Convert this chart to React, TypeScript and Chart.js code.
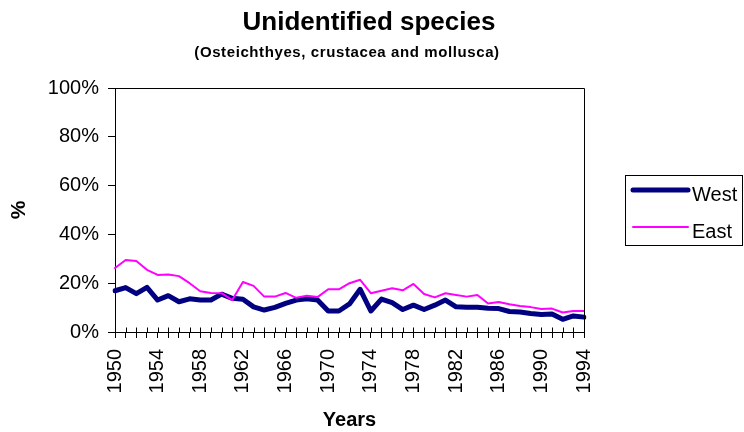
import { useEffect, useRef } from "react";
import { Chart, registerables } from "chart.js";

Chart.register(...registerables);

const FONT = '"Liberation Sans", Arial, Helvetica, sans-serif';

const chartTitle = "Unidentified species";
const chartSubtitle = "(Osteichthyes, crustacea and mollusca)";
const xAxisTitle = "Years";
const yAxisTitle = "%";

const years = [
  "1950", "1951", "1952", "1953", "1954", "1955", "1956", "1957", "1958", "1959",
  "1960", "1961", "1962", "1963", "1964", "1965", "1966", "1967", "1968", "1969",
  "1970", "1971", "1972", "1973", "1974", "1975", "1976", "1977", "1978", "1979",
  "1980", "1981", "1982", "1983", "1984", "1985", "1986", "1987", "1988", "1989",
  "1990", "1991", "1992", "1993", "1994",
];

// Share of unidentified species in the catch, per cent
const westShare = [
  16.9, 18.2, 15.7, 18.3, 13.1, 14.9, 12.4, 13.6, 13.1, 13.1,
  15.5, 13.8, 13.4, 10.3, 9.0, 10.1, 11.7, 13.1, 13.6, 13.1,
  8.6, 8.6, 11.5, 17.5, 8.6, 13.5, 12.0, 9.2, 11.0, 9.2,
  11.0, 13.1, 10.3, 10.1, 10.1, 9.7, 9.6, 8.4, 8.2, 7.6,
  7.2, 7.4, 5.2, 6.6, 6.1,
];

const eastShare = [
  26.2, 29.5, 29.1, 25.5, 23.4, 23.6, 22.9, 20.0, 16.7, 16.0,
  15.9, 13.1, 20.5, 18.9, 14.5, 14.5, 16.0, 14.0, 14.9, 14.3,
  17.5, 17.5, 20.0, 21.4, 15.9, 16.9, 17.9, 17.1, 19.7, 15.6,
  14.2, 15.9, 15.2, 14.5, 15.2, 11.7, 12.3, 11.4, 10.7, 10.2,
  9.4, 9.6, 8.0, 8.6, 8.6,
];

const yTicks = [0, 20, 40, 60, 80, 100];
const labelEvery = 4;

// Title and subtitle above the plot
const headingPlugin = {
  id: "heading",
  afterDraw(chart: any) {
    const { ctx } = chart;
    ctx.save();
    ctx.fillStyle = "#000";
    ctx.textAlign = "center";
    ctx.textBaseline = "alphabetic";
    ctx.font = `bold 26px ${FONT}`;
    ctx.fillText(chartTitle, 369, 30);
    ctx.font = `bold 15px ${FONT}`;
    (ctx as any).letterSpacing = "0.6px";
    ctx.fillText(chartSubtitle, 347, 57);
    ctx.restore();
  },
};

// Plot frame (top and right edges) and the inner half of the category tick marks
const framePlugin = {
  id: "frame",
  afterDraw(chart: any) {
    const { ctx, chartArea } = chart;
    const xs = chart.scales.x;
    const l = Math.round(chartArea.left) + 0.5;
    const r = Math.round(chartArea.right) + 0.5;
    const t = Math.round(chartArea.top) + 0.5;
    const b = Math.round(chartArea.bottom) + 0.5;
    ctx.save();
    ctx.strokeStyle = "#000";
    ctx.lineWidth = 1;
    ctx.beginPath();
    ctx.moveTo(l, t);
    ctx.lineTo(r, t);
    ctx.lineTo(r, b);
    for (let i = 0; i < years.length; i++) {
      const px = Math.round(xs.getPixelForValue(i)) + 0.5;
      ctx.moveTo(px, b);
      ctx.lineTo(px, b - 5);
    }
    ctx.stroke();
    ctx.restore();
  },
};

// Boxed legend at the right of the plot
const legendBoxPlugin = {
  id: "legendBox",
  afterDraw(chart: any) {
    const { ctx } = chart;
    const bx = 625.5;
    const by = 175.5;
    ctx.save();
    ctx.strokeStyle = "#000";
    ctx.lineWidth = 1;
    ctx.strokeRect(bx, by, 117, 70);
    chart.data.datasets.forEach((ds: any, i: number) => {
      const y = 190 + i * 37;
      ctx.beginPath();
      ctx.strokeStyle = ds.borderColor;
      ctx.lineWidth = ds.borderWidth;
      ctx.lineCap = "round";
      ctx.moveTo(633, y);
      ctx.lineTo(688, y);
      ctx.stroke();
      ctx.fillStyle = "#000";
      ctx.font = `20px ${FONT}`;
      ctx.textAlign = "left";
      ctx.textBaseline = "middle";
      ctx.fillText(ds.label, 692, y + 5);
    });
    ctx.restore();
  },
};

export default function App() {
  const canvasRef = useRef<HTMLCanvasElement | null>(null);

  useEffect(() => {
    const canvas = canvasRef.current;
    if (!canvas) return;
    const chart = new Chart(canvas, {
      type: "line",
      data: {
        labels: years,
        datasets: [
          {
            label: "West",
            data: westShare,
            borderColor: "#000080",
            backgroundColor: "#000080",
            borderWidth: 5,
            order: 1,
          },
          {
            label: "East",
            data: eastShare,
            borderColor: "#FF00FF",
            backgroundColor: "#FF00FF",
            borderWidth: 2,
            order: 0,
          },
        ],
      },
      options: {
        responsive: false,
        animation: false,
        events: [],
        layout: { padding: { top: 88, right: 160, bottom: 0, left: 0 } },
        elements: {
          point: { radius: 0 },
          line: { tension: 0, borderJoinStyle: "round", borderCapStyle: "round" },
        },
        plugins: {
          legend: { display: false },
          tooltip: { enabled: false },
          title: { display: false },
        },
        scales: {
          x: {
            type: "category",
            offset: false,
            grid: {
              display: true,
              drawOnChartArea: false,
              drawTicks: true,
              tickLength: 6,
              color: "#000",
              offset: false,
            },
            border: { display: true, color: "#000", width: 1 },
            ticks: {
              autoSkip: false,
              maxRotation: 90,
              minRotation: 90,
              padding: 11,
              color: "#000",
              font: { family: FONT, size: 20 },
              callback: (_v: any, i: number) => (i % labelEvery === 0 ? years[i] : ""),
            },
            title: {
              display: true,
              text: xAxisTitle,
              color: "#000",
              font: { family: FONT, size: 20, weight: "bold" },
              padding: { top: 0, bottom: 0 },
            },
            afterFit: (s: any) => {
              s.height = 100;
            },
          },
          y: {
            min: 0,
            max: 100,
            afterBuildTicks: (s: any) => {
              s.ticks = yTicks.map((v) => ({ value: v }));
            },
            grid: {
              display: true,
              drawOnChartArea: false,
              drawTicks: true,
              tickLength: 7,
              color: "#000",
            },
            border: { display: true, color: "#000", width: 1 },
            ticks: {
              padding: 9,
              color: "#000",
              font: { family: FONT, size: 20 },
              callback: (v: any) => `${v}%`,
            },
            title: {
              display: true,
              text: yAxisTitle,
              color: "#000",
              font: { family: FONT, size: 21, weight: "bold" },
              padding: { top: 7, bottom: 0 },
            },
            afterFit: (s: any) => {
              s.width = 115;
            },
          },
        },
      },
      plugins: [headingPlugin, framePlugin, legendBoxPlugin],
    } as any);
    return () => chart.destroy();
  }, []);

  return (
    <div style={{ position: "fixed", left: 0, top: 0, width: 744, height: 432, background: "#fff" }}>
      <canvas ref={canvasRef} width={744} height={432} style={{ display: "block" }} />
    </div>
  );
}
